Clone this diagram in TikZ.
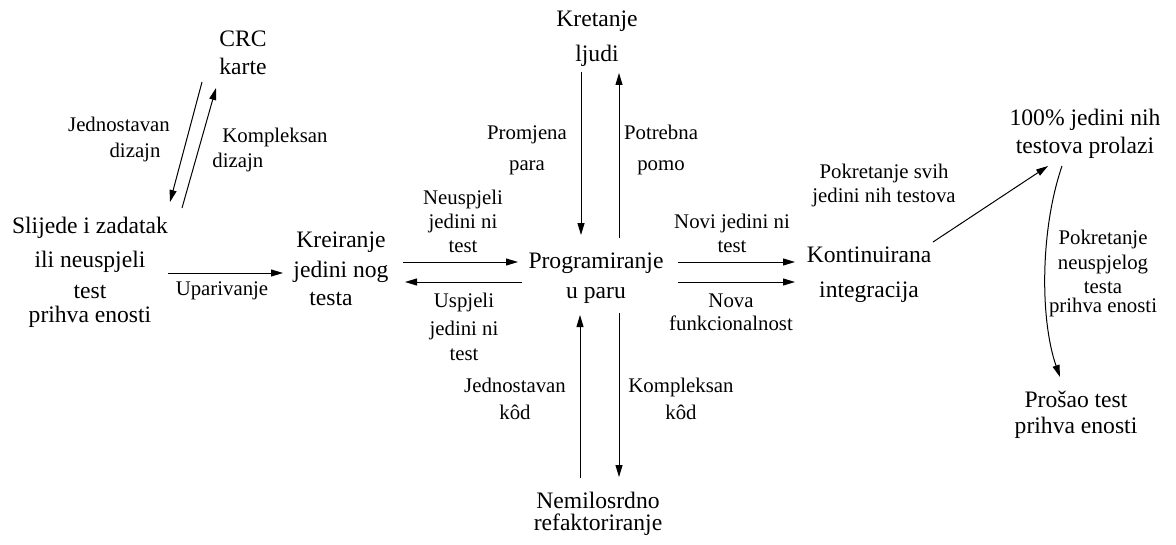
\documentclass[tikz,border=0pt]{standalone}
\usepackage{fontspec}
\setmainfont{Liberation Serif}
\usetikzlibrary{arrows.meta}
\begin{document}
\begin{tikzpicture}[x=0.5pt,y=-0.5pt,
  blk/.style={font=\fontsize{11.8}{12}\selectfont, align=center, anchor=base, inner sep=0pt},
  lbl/.style={font=\fontsize{10.4}{12}\selectfont, align=center, anchor=base, inner sep=0pt},
  arr/.style={-{Triangle[length=6pt,width=3.5pt]}, line width=0.5pt}]
\useasboundingbox (0,0) rectangle (1176,545);

% activities (placed at the baseline of their last line)
\node[blk] (crc)  at (243,75)  {CRC\\[2pt]karte};
\node[blk] (slij) at (90,322)  {Slijede i zadatak\\[5pt]ili neuspjeli\\[3.5pt]test\\prihva enosti};
\node[blk] (kre)  at (341,305) {Kreiranje\\[2.5pt]jedini nog\\[2pt]testa\hspace*{10pt}};
\node[blk] (prog) at (596,298) {Programiranje\\[3pt]u paru};
\node[blk] (kret) at (597,62)  {Kretanje\\[5.5pt]ljudi};
\node[blk] (nem)  at (598,530) {Nemilosrdno\\[-1pt]refaktoriranje};
\node[blk] (kont) at (869,297) {Kontinuirana\\[5.5pt]integracija};
\node[blk] (sto)  at (1085,154) {100\% jedini nih\\[2pt]testova prolazi};
\node[blk] (pro)  at (1076,433) {Prošao test\\[1pt]prihva enosti};

% transitions
\node[lbl] (ljd) at (119,158) {Jednostavan\\[1pt]\hspace*{16pt}dizajn};
\node[lbl, align=left, anchor=base west] (lkd) at (212,168) {\hspace*{5pt}Kompleksan\\[0.5pt]dizajn};
\node[lbl] (lup) at (222,295) {Uparivanje};
\node[lbl] (lne) at (463,252) {Neuspjeli\\jedini ni\\test};
\node[lbl] (lus) at (464,360) {Uspjeli\\[2pt]jedini ni\\[0.5pt]test};
\node[lbl] (lnv) at (732,252) {Novi jedini ni\\test};
\node[lbl] (lnf) at (731,330) {Nova\\[-0.5pt]funkcionalnost};
\node[lbl] (lpm) at (527,170) {Promjena\\[3pt]para};
\node[lbl] (lpp) at (661,170) {Potrebna\\[3pt]pomo};
\node[lbl] (ljk) at (515,419) {Jednostavan\\[1.5pt]kôd};
\node[lbl] (lkk) at (681,419) {Kompleksan\\[1.5pt]kôd};
\node[lbl] (lps) at (884,203) {Pokretanje svih\\jedini nih testova};
\node[lbl] (lpn) at (1103,312) {Pokretanje\\[0.5pt]neuspjelog\\[0pt]testa\\[-2.5pt]prihva enosti};

% connector ends
\coordinate (crc-a) at (202,82);  \coordinate (slij-a) at (170,202);
\coordinate (slij-b) at (182,208); \coordinate (crc-b) at (216,88);
\coordinate (slij-c) at (168,273); \coordinate (kre-c) at (283,273);
\coordinate (kre-d) at (403,262);  \coordinate (prog-d) at (518,262);
\coordinate (prog-e) at (522,282); \coordinate (kre-e) at (405,282);
\coordinate (prog-f) at (678,262); \coordinate (kont-f) at (795,262);
\coordinate (prog-g) at (678,282); \coordinate (kont-g) at (795,282);
\coordinate (kret-h) at (581,72);  \coordinate (prog-h) at (581,235);
\coordinate (prog-i) at (619,238); \coordinate (kret-i) at (619,73);
\coordinate (nem-j) at (580,478);  \coordinate (prog-j) at (580,315);
\coordinate (prog-k) at (619,313); \coordinate (nem-k) at (619,477);
\coordinate (kont-l) at (933,242); \coordinate (sto-l) at (1048,166);
\coordinate (sto-m) at (1062,166); \coordinate (pro-m) at (1060,377);

\draw[arr] (crc-a) -- (slij-a);
\draw[arr] (slij-b) -- (crc-b);
\draw[arr] (slij-c) -- (kre-c);
\draw[arr] (kre-d) -- (prog-d);
\draw[arr] (prog-e) -- (kre-e);
\draw[arr] (prog-f) -- (kont-f);
\draw[arr] (prog-g) -- (kont-g);
\draw[arr] (kret-h) -- (prog-h);
\draw[arr] (prog-i) -- (kret-i);
\draw[arr] (nem-j) -- (prog-j);
\draw[arr] (prog-k) -- (nem-k);
\draw[arr] (kont-l) -- (sto-l);
\draw[arr] (sto-m) .. controls (1040,230) and (1040,320) .. (pro-m);
\end{tikzpicture}
\end{document}
